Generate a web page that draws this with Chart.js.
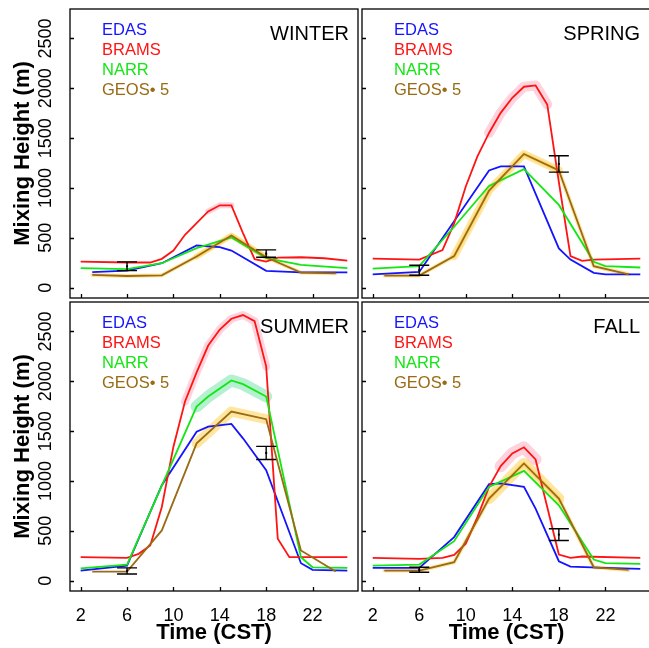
<!DOCTYPE html>
<html>
<head>
<meta charset="utf-8">
<script src="https://cdn.jsdelivr.net/npm/chart.js@4.4.0/dist/chart.umd.min.js"></script>
<style>
  html, body { margin: 0; padding: 0; background: #fff; overflow: hidden; }
  #wrap { position: relative; width: 649px; height: 648px; overflow: hidden; }
  #wrap canvas { position: absolute; left: 0; top: 0; }
</style>
</head>
<body>
<div id="wrap">
  <canvas id="winter" width="660" height="648"></canvas>
  <canvas id="spring" width="660" height="648"></canvas>
  <canvas id="summer" width="660" height="648"></canvas>
  <canvas id="fall" width="660" height="648"></canvas>
</div>
<script>
// Hours (CST) and axis ticks
const hours = [2, 3, 4, 5, 6, 7, 8, 9, 10, 11, 12, 13, 14, 15, 16, 17, 18, 19, 20, 21, 22, 23, 24, 25];
const geosHours = [3, 6, 9, 12, 15, 18, 21, 24];
const obsHours = [6, 18];
const xTicks = [2, 6, 10, 14, 18, 22];
const yTicks = [0, 500, 1000, 1500, 2000, 2500];

const models = ['EDAS', 'BRAMS', 'NARR', 'GEOS\u2022 5'];
const modelColors = ['#1414ff', '#ff1414', '#14e614', '#9a6a14'];

// Winter (null = no kink read, line passes straight through)
//                 2    3    4    5    6    7    8    9   10   11   12   13   14   15   16   17   18   19   20   21   22   23   24   25
const winterEdas  = [null,155,null,null,170,null,null,245,null,null,423,null,406,372,null,null,168,null,null,154,null,null,null,154];
const winterBrams = [262,null,null,null,252,null,252,289,372,530,648,765,826,826,547,285,262,302,null,305,null,295,null,272];
const winterNarr  = [195,null,null,null,185,null,null,245,null,null,396,null,null,503,null,null,295,null,null,228,null,null,null,195];
const winterGeos  = [128, 117, 124, 312, 523, 305, 151, 144];
const winterObsLo = [171, 305];
const winterObsHi = [258, 379];

// Spring
const springEdas  = [134,null,null,null,158,null,null,null,null,null,1176,1216,null,1216,null,null,393,282,null,148,134,null,null,134];
const springBrams = [292,null,null,null,282,null,376,645,1015,1317,1552,1754,1905,2016,2029,1838,1060,316,269,282,null,null,null,292];
const springNarr  = [191,null,null,null,215,null,null,611,null,null,1021,null,null,1189,null,null,830,null,null,259,215,null,null,202];
const springGeos  = [121, 121, 316, 974, 1341, 1176, 215, 134];
const springObsLo = [124, 1159];
const springObsHi = [225, 1324];

// Summer
const summerEdas  = [101,null,null,null,151,null,null,958,null,null,1495,1546,null,1572,1428,null,1109,null,null,175,108,null,null,101];
const summerBrams = [235,null,null,null,228,269,353,739,1344,1798,2090,2359,2520,2628,2665,2604,2150,420,235,null,null,null,null,235];
const summerNarr  = [124,null,null,null,161,null,null,null,null,null,1747,1848,null,2009,1972,null,1848,null,null,235,134,null,null,128];
const summerGeos  = [91, 91, 504, 1378, 1697, 1620, 302, 91];
const summerObsLo = [67, 1216];
const summerObsHi = [128, 1347];

// Fall
const fallEdas  = [128,null,null,null,128,null,null,437,null,null,968,975,null,941,722,null,195,141,null,null,128,null,null,118];
const fallBrams = [228,null,null,null,218,null,228,259,370,638,941,1149,1277,1338,1216,739,262,228,242,null,null,null,null,228];
const fallNarr  = [151,null,null,null,161,null,null,396,null,null,941,null,null,1102,null,null,756,null,null,212,175,null,null,168];
const fallGeos  = [101, 101, 185, 823, 1176, 823, 134, 107];
const fallObsLo = [84, 403];
const fallObsHi = [134, 521];

const FONT = '"Liberation Sans", Arial, Helvetica, sans-serif';
const bandColors = {
  BRAMS: 'rgba(255, 140, 165, 0.38)',
  NARR: 'rgba(90, 225, 150, 0.45)',
  GEOS: 'rgba(255, 200, 45, 0.45)'
};

function toPoints(xs, ys) {
  return xs.map((h, i) => ({ x: h, y: ys[i] })).filter(p => p.y !== null);
}

function decor(panel) {
  return {
    id: 'decor_' + panel.id,
    afterDatasetsDraw(chart) {
      const { ctx, chartArea: a, scales: { x, y } } = chart;
      ctx.save();
      ctx.strokeStyle = '#000';
      ctx.fillStyle = '#000';
      ctx.lineWidth = 1.4;

      // observed ranges
      obsHours.forEach((h, i) => {
        const px = x.getPixelForValue(h);
        const top = y.getPixelForValue(panel.obsHi[i]);
        const bot = y.getPixelForValue(panel.obsLo[i]);
        ctx.beginPath();
        ctx.moveTo(px - 10, top); ctx.lineTo(px + 10, top);
        ctx.moveTo(px, top); ctx.lineTo(px, bot);
        ctx.moveTo(px - 10, bot); ctx.lineTo(px + 10, bot);
        ctx.stroke();
        ctx.fillRect(px - 1, (top + bot) / 2 - 1, 2, 2);
      });

      // box and inward ticks
      ctx.lineWidth = 1.3;
      ctx.strokeRect(a.left, a.top, a.right - a.left, a.bottom - a.top);
      ctx.beginPath();
      xTicks.forEach(v => {
        const px = Math.round(x.getPixelForValue(v)) + 0.5;
        ctx.moveTo(px, a.bottom); ctx.lineTo(px, a.bottom - 4);
      });
      yTicks.forEach(v => {
        const py = Math.round(y.getPixelForValue(v)) + 0.5;
        ctx.moveTo(a.left, py); ctx.lineTo(a.left + 4, py);
      });
      ctx.stroke();

      // rotated y tick labels
      if (panel.showY) {
        ctx.font = '18px ' + FONT;
        ctx.textAlign = 'center';
        ctx.textBaseline = 'middle';
        yTicks.forEach(v => {
          ctx.save();
          ctx.translate(46, y.getPixelForValue(v));
          ctx.rotate(-Math.PI / 2);
          ctx.fillText(String(v), 0, 0);
          ctx.restore();
        });
      }

      // legend
      ctx.font = '16.5px ' + FONT;
      ctx.textAlign = 'left';
      ctx.textBaseline = 'middle';
      models.forEach((m, i) => {
        ctx.fillStyle = modelColors[i];
        ctx.fillText(m, a.left + 32, a.top + 21 + i * 20.3);
      });

      // season name
      ctx.fillStyle = '#000';
      ctx.font = '20px ' + FONT;
      ctx.textAlign = 'right';
      ctx.fillText(panel.season, a.right - panel.titleInset, a.top + 25);
      ctx.restore();
    }
  };
}

function makePanel(panel) {
  const b = panel.box;
  const series = [
    toPoints(hours, panel.edas),
    toPoints(hours, panel.brams),
    toPoints(hours, panel.narr),
    toPoints(geosHours, panel.geos)
  ];
  const datasets = [];
  // uncertainty bands, drawn as wide translucent strokes under the lines
  panel.bands.forEach(([name, from, to, width]) => {
    const idx = name === 'BRAMS' ? 1 : name === 'NARR' ? 2 : 3;
    datasets.push({
      label: name + ' band',
      data: series[idx].filter(p => p.x >= from && p.x <= to),
      borderColor: bandColors[name],
      borderWidth: width,
      borderCapStyle: 'round',
      borderJoinStyle: 'round',
      pointRadius: 0,
      tension: 0,
      order: 10
    });
  });
  series.forEach((pts, i) => {
    datasets.push({
      label: models[i],
      data: pts,
      borderColor: modelColors[i],
      borderWidth: 1.8,
      pointRadius: 0,
      tension: 0,
      order: 4 - i
    });
  });

  new Chart(document.getElementById(panel.id), {
    type: 'line',
    data: { datasets },
    options: {
      responsive: false,
      animation: false,
      devicePixelRatio: 1,
      layout: {
        padding: {
          left: panel.showY ? 0 : b.left,
          right: 660 - b.right,
          top: b.top,
          bottom: panel.showX ? 0 : 648 - b.bottom
        }
      },
      plugins: { legend: { display: false }, tooltip: { enabled: false } },
      scales: {
        x: {
          type: 'linear',
          min: 1.08,
          max: 25.92,
          display: panel.showX,
          afterBuildTicks: s => { s.ticks = xTicks.map(v => ({ value: v })); },
          afterFit: s => { s.height = panel.showX ? 648 - b.bottom : 0; },
          grid: { display: false, drawTicks: false },
          border: { display: false },
          ticks: { color: '#000', padding: 14, maxRotation: 0, font: { family: FONT, size: 18 } },
          title: {
            display: true,
            text: 'Time (CST)',
            color: '#000',
            padding: { top: 0, bottom: 2 },
            font: { family: FONT, size: 22, weight: 'bold' }
          }
        },
        y: {
          type: 'linear',
          min: -104,
          max: 2796,
          display: panel.showY,
          afterBuildTicks: s => { s.ticks = yTicks.map(v => ({ value: v })); },
          afterFit: s => { s.width = panel.showY ? b.left : 0; },
          grid: { display: false, drawTicks: false },
          border: { display: false },
          ticks: { display: false },
          title: {
            display: true,
            text: 'Mixing Height (m)',
            color: '#000',
            padding: { top: 10, bottom: 0 },
            font: { family: FONT, size: 22, weight: 'bold' }
          }
        }
      }
    },
    plugins: [decor(panel)]
  });
}

makePanel({
  id: 'winter', season: 'WINTER', showX: false, showY: true, titleInset: 9,
  box: { left: 70, right: 358, top: 9, bottom: 298 },
  edas: winterEdas, brams: winterBrams, narr: winterNarr, geos: winterGeos,
  obsLo: winterObsLo, obsHi: winterObsHi,
  bands: [['BRAMS', 13, 15, 6], ['GEOS', 3, 24, 4], ['GEOS', 12, 18, 6]]
});
makePanel({
  id: 'spring', season: 'SPRING', showX: false, showY: false, titleInset: 11,
  box: { left: 362, right: 651, top: 9, bottom: 298 },
  edas: springEdas, brams: springBrams, narr: springNarr, geos: springGeos,
  obsLo: springObsLo, obsHi: springObsHi,
  bands: [['BRAMS', 12, 17, 10], ['GEOS', 3, 24, 4], ['GEOS', 9, 18, 8]]
});
makePanel({
  id: 'summer', season: 'SUMMER', showX: true, showY: true, titleInset: 9,
  box: { left: 70, right: 358, top: 302, bottom: 591 },
  edas: summerEdas, brams: summerBrams, narr: summerNarr, geos: summerGeos,
  obsLo: summerObsLo, obsHi: summerObsHi,
  bands: [['BRAMS', 11, 18, 8], ['NARR', 12, 18, 12], ['GEOS', 12, 18, 10]]
});
makePanel({
  id: 'fall', season: 'FALL', showX: true, showY: false, titleInset: 11,
  box: { left: 362, right: 651, top: 302, bottom: 591 },
  edas: fallEdas, brams: fallBrams, narr: fallNarr, geos: fallGeos,
  obsLo: fallObsLo, obsHi: fallObsHi,
  bands: [['BRAMS', 13, 16, 12], ['GEOS', 3, 24, 4], ['GEOS', 12, 18, 11]]
});
</script>
</body>
</html>
